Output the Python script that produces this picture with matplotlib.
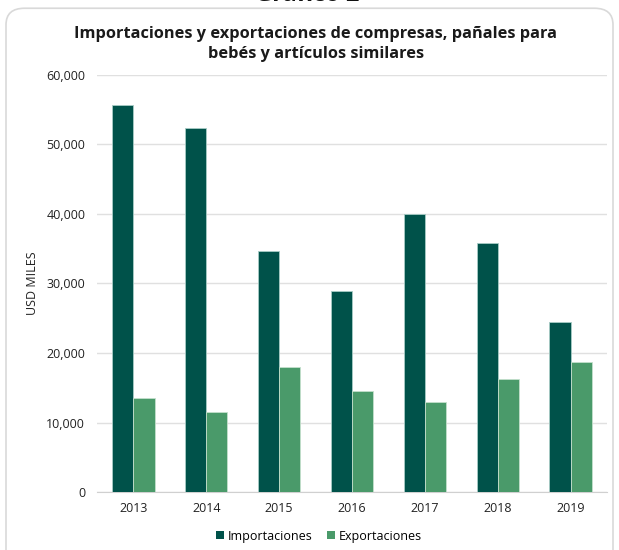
import matplotlib.pyplot as plt
import numpy as np
from matplotlib.patches import FancyBboxPatch, Patch

years = ["2013", "2014", "2015", "2016", "2017", "2018", "2019"]
importaciones = [55700, 52300, 34700, 28900, 40000, 35800, 24400]
exportaciones = [13500, 11500, 17950, 14550, 12950, 16250, 18680]

color_imp = "#00524A"
color_exp = "#4A9A6A"

plt.rcParams['font.family'] = ['Open Sans', 'DejaVu Sans']

fig = plt.figure(figsize=(6.19, 5.5), dpi=100)

# rounded frame of the chart, kept behind the axes
frame = FancyBboxPatch((6 / 619, -0.05), 607 / 619, 1.035,
                       boxstyle="round,pad=0,rounding_size=0.03",
                       transform=fig.transFigure, facecolor="white",
                       edgecolor="#d9d9d9", linewidth=1.2, zorder=-10)
fig.patches.append(frame)

fig.text(0.497, 0.998, "Gráfico 2", ha="center", va="baseline",
         fontsize=17, fontweight="bold", color="#111111")

ax = fig.add_axes([0.1567, 0.1049, 0.8239, 0.7593])
ax.patch.set_alpha(0)
x = np.arange(len(years))
w = 0.29
ax.bar(x - w / 2, importaciones, width=w, color=color_imp,
       edgecolor="#a8ccc6", linewidth=0.6, label="Importaciones", zorder=3)
ax.bar(x + w / 2, exportaciones, width=w, color=color_exp,
       edgecolor="#c4e0cc", linewidth=0.6, label="Exportaciones", zorder=3)

ax.set_xlim(-0.5, len(years) - 0.5)
ax.set_ylim(0, 60000)
ax.set_yticks(range(0, 60001, 10000))
ax.set_yticklabels([f"{v:,}" for v in range(0, 60001, 10000)])
ax.set_xticks(x)
ax.set_xticklabels(years)
ax.grid(axis="y", color="#e0e0e0", linewidth=1, zorder=0)
for s in ["top", "right", "left"]:
    ax.spines[s].set_visible(False)
ax.spines["bottom"].set_color("#d0d0d0")
ax.tick_params(axis="both", length=0, labelsize=9, colors="#222222")
ax.tick_params(axis="y", pad=8.5)
ax.tick_params(axis="x", pad=7)
ax.set_ylabel("USD MILES", fontsize=9, color="#222222", labelpad=5)

fig.text(0.51, 0.92,
         "Importaciones y exportaciones de compresas, pañales para\nbebés y artículos similares",
         ha="center", va="center", fontsize=11.8, fontweight="bold",
         color="#1a1a1a", linespacing=1.3)

handles = [Patch(facecolor=color_imp, label="Importaciones"),
           Patch(facecolor=color_exp, label="Exportaciones")]
fig.legend(handles=handles, loc="center", bbox_to_anchor=(0.515, 0.025),
           ncol=2, frameon=False, fontsize=9, handlelength=0.6,
           handleheight=0.6, handletextpad=0.3, columnspacing=1.2)

fig.savefig("out.png", dpi=100)
